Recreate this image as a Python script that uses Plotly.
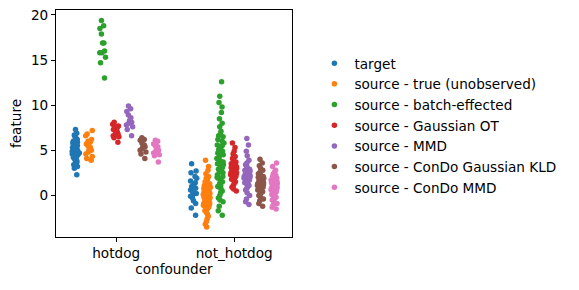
import plotly.graph_objects as go

categories = ["hotdog", "not_hotdog"]
series_names = [
    "target",
    "source - true (unobserved)",
    "source - batch-effected",
    "source - Gaussian OT",
    "source - MMD",
    "source - ConDo Gaussian KLD",
    "source - ConDo MMD",
]
colors = ["#1f77b4", "#ff7f0e", "#2ca02c", "#d62728", "#9467bd", "#8c564b", "#e377c2"]

# values per series: (hotdog, not_hotdog)
target_hotdog = [7.3, 6.9, 6.7, 6.5, 6.2, 6.0, 5.9, 5.8, 5.7, 5.6, 5.5, 5.4, 5.3, 5.2, 5.1, 5.0,
                 4.9, 4.8, 4.7, 4.6, 4.5, 4.4, 4.3, 4.2, 4.0, 3.9, 3.7, 3.5, 3.4, 3.2, 3.0, 2.3,
                 5.0, 5.3, 4.6, 6.3, 3.8, 4.9]
target_not = [3.5, 2.7, 2.5, 2.1, 1.9, 1.6, 1.2, 1.0, 0.6, 0.4, 0.2, -0.1, -0.3, -0.6, -0.9,
              -1.4, -2.2, 0.8, 1.4, 0.0]
true_hotdog = [7.2, 6.8, 6.6, 6.2, 5.9, 5.7, 5.5, 5.3, 5.0, 4.8, 4.6, 4.3, 4.1, 3.9, 5.1, 6.0]
true_not = [3.9, 3.2, 2.8, 2.4, 2.1, 1.8, 1.6, 1.5, 1.3, 1.1, 1.0, 0.9, 0.8, 0.7, 0.6, 0.5, 0.4,
            0.3, 0.2, 0.1, 0.0, -0.1, -0.2, -0.3, -0.4, -0.5, -0.6, -0.7, -0.8, -0.9, -1.0, -1.1,
            -1.2, -1.3, -1.4, -1.5, -1.7, -1.9, -2.1, -2.3, -2.6, -2.9, -3.2, -3.5, 0.6, -0.2,
            -0.8, 0.2, -1.2, 1.9]
batch_hotdog = [19.4, 18.8, 18.5, 17.9, 16.9, 16.9, 16.0, 15.8, 15.8, 15.3, 14.7, 13.0]
batch_not = [12.6, 11.0, 10.3, 9.8, 9.2, 8.5, 8.0, 7.6, 7.1, 6.8, 6.5, 6.2, 6.0, 5.8, 5.5, 5.3,
             5.1, 4.9, 4.7, 4.5, 4.3, 4.1, 3.9, 3.7, 3.5, 3.3, 3.1, 2.9, 2.7, 2.5, 2.3, 2.1, 1.9,
             1.7, 1.5, 1.3, 1.1, 0.9, 0.7, 0.5, 0.3, 0.0, -0.3, -0.7, -1.2, -1.7, -2.2, 4.6, 3.4,
             2.0, 5.6, 1.0, 6.6, -0.5, 2.6, 3.8]
ot_hotdog = [8.1, 7.9, 7.7, 7.5, 7.3, 7.2, 7.0, 6.9, 6.8, 6.7, 6.6, 6.5, 6.4, 5.9, 7.6]
ot_not = [5.8, 5.3, 4.9, 4.6, 4.3, 4.1, 3.9, 3.7, 3.6, 3.4, 3.3, 3.2, 3.1, 3.0, 2.9, 2.8, 2.7,
          2.6, 2.5, 2.4, 2.3, 2.2, 2.1, 2.0, 1.9, 1.8, 1.6, 1.5, 1.3, 1.1, 0.9, 0.7, 0.5, 2.9,
          2.5, 3.5, 1.7, 2.3]
mmd_hotdog = [9.9, 9.6, 9.3, 8.9, 8.6, 8.3, 8.0, 7.8, 7.6, 7.3, 6.6, 8.1]
mmd_not = [6.3, 5.6, 4.9, 4.4, 3.9, 3.6, 3.4, 3.2, 3.0, 2.9, 2.8, 2.6, 2.5, 2.4, 2.3, 2.2, 2.1,
           2.0, 1.9, 1.8, 1.7, 1.6, 1.5, 1.4, 1.3, 1.2, 1.0, 0.8, 0.6, 0.3, 0.0, -0.4, -0.7, -1.0,
           2.4, 1.9, 1.1, 2.7]
kld_hotdog = [6.4, 6.2, 6.1, 5.8, 5.6, 5.4, 5.2, 5.0, 4.8, 4.6, 4.1, 5.5]
kld_not = [4.0, 3.6, 3.3, 3.0, 2.8, 2.6, 2.4, 2.2, 2.1, 2.0, 1.9, 1.8, 1.7, 1.6, 1.5, 1.4, 1.3,
           1.2, 1.1, 1.0, 0.9, 0.8, 0.7, 0.6, 0.5, 0.4, 0.3, 0.2, 0.0, -0.2, -0.4, -0.6, -0.9,
           -1.2, 1.5, 1.0, 0.6, 2.3]
condo_mmd_hotdog = [6.1, 6.0, 5.7, 5.5, 5.4, 5.2, 5.0, 4.9, 4.7, 4.5, 4.4, 3.7]
condo_mmd_not = [3.6, 3.2, 2.8, 2.6, 2.4, 2.2, 2.0, 1.9, 1.8, 1.7, 1.6, 1.5, 1.4, 1.3, 1.2, 1.1,
                 1.0, 0.9, 0.8, 0.7, 0.6, 0.5, 0.4, 0.3, 0.2, 0.1, 0.0, -0.1, -0.2, -0.3, -0.5,
                 -0.7, -0.9, -1.1, -1.3, -1.5, 1.2, 0.6, -0.4, 1.6, 0.9, 2.1]

series_values = [
    (target_hotdog, target_not),
    (true_hotdog, true_not),
    (batch_hotdog, batch_not),
    (ot_hotdog, ot_not),
    (mmd_hotdog, mmd_not),
    (kld_hotdog, kld_not),
    (condo_mmd_hotdog, condo_mmd_not),
]

y_ticks = [0, 5, 10, 15, 20]

FONT = "DejaVu Sans"
FS = 13.6

fig = go.Figure()
for i, (name, (vh, vn), c) in enumerate(zip(series_names, series_values, colors)):
    xs = [categories[0]] * len(vh) + [categories[1]] * len(vn)
    ys = list(vh) + list(vn)
    fig.add_trace(go.Box(
        x=xs, y=ys, name=name, offsetgroup=str(i), legendgroup=name,
        boxpoints="all", jitter=0.6, pointpos=0,
        fillcolor="rgba(0,0,0,0)", line=dict(width=0, color="rgba(0,0,0,0)"),
        marker=dict(color=c, size=5.5, line=dict(width=0)),
        showlegend=False, hoveron="points",
    ))
for name, c in zip(series_names, colors):
    fig.add_trace(go.Scatter(
        x=[None], y=[None], mode="markers", name=name, legendgroup=name,
        marker=dict(color=c, size=5.5), showlegend=True,
    ))

fig.update_layout(
    width=579, height=290,
    margin=dict(l=56, r=287, t=10, b=53, autoexpand=False),
    boxmode="group", boxgap=0.2, boxgroupgap=0,
    plot_bgcolor="white", paper_bgcolor="white",
    font=dict(family=FONT, size=FS, color="black"),
    legend=dict(
        xref="container", yref="container", x=0.543, y=0.835, xanchor="left", yanchor="top",
        font=dict(family=FONT, size=FS, color="black"),
        bgcolor="rgba(0,0,0,0)", itemsizing="trace", tracegroupgap=0, maxheight=1.0,
    ),
)
fig.update_xaxes(
    type="category", categoryorder="array", categoryarray=categories,
    range=[-0.51, 1.49], showgrid=False, zeroline=False, automargin=False,
    showline=True, linecolor="black", linewidth=1.1, mirror=True,
    ticks="outside", ticklen=4, tickwidth=1.1, tickcolor="black",
    title=dict(text="confounder", standoff=2, font=dict(family=FONT, size=FS)),
)
fig.update_yaxes(
    range=[-4.61, 20.55], tickvals=y_ticks, ticktext=[str(t) for t in y_ticks],
    showgrid=False, zeroline=False, automargin=False,
    showline=True, linecolor="black", linewidth=1.1, mirror=True,
    ticks="outside", ticklen=4, tickwidth=1.1, tickcolor="black",
    title=dict(text="feature", standoff=6, font=dict(family=FONT, size=FS)),
)

fig.write_html("out.html", config={"displayModeBar": False},
               post_script="document.body.style.margin='0px';")
